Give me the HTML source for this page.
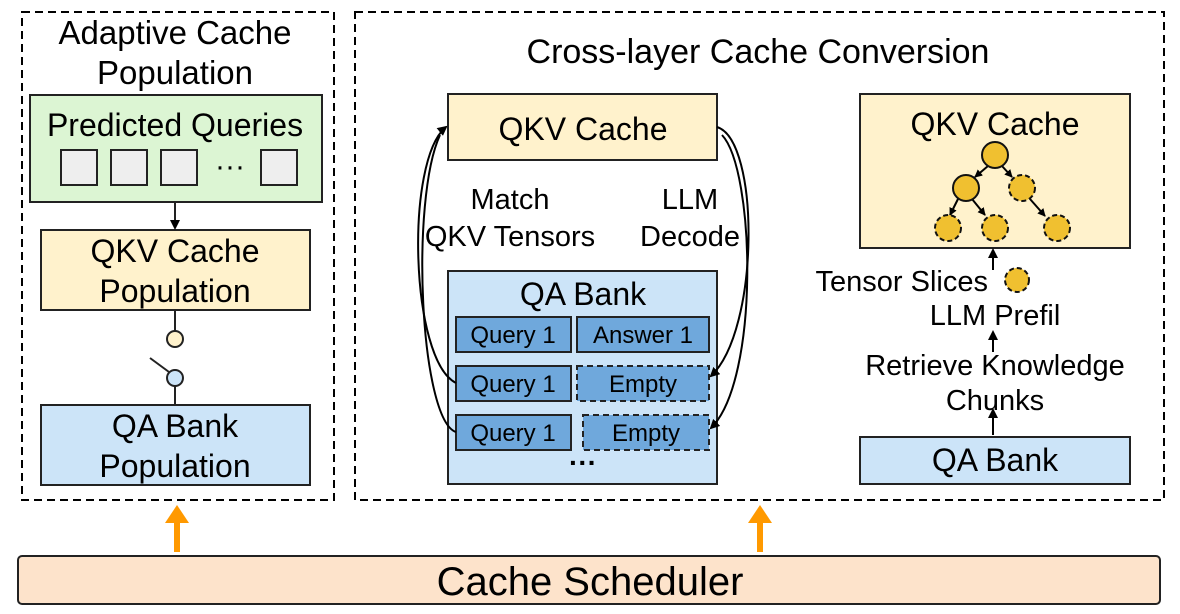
<!DOCTYPE html>
<html><head><meta charset="utf-8"><style>body{margin:0;background:#fff}svg{display:block}text{font-family:"Liberation Sans",Arial,sans-serif;fill:#000}</style></head><body>
<svg width="1180" height="614" viewBox="0 0 1180 614" xmlns="http://www.w3.org/2000/svg">
<defs>
<marker id="a" markerWidth="10" markerHeight="10" refX="8" refY="5" orient="auto" markerUnits="userSpaceOnUse"><path d="M0,0 L10,5 L0,10 Z" fill="#000"/></marker>
<marker id="s" markerWidth="8" markerHeight="8" refX="7" refY="4" orient="auto" markerUnits="userSpaceOnUse"><path d="M0,0 L8,4 L0,8 Z" fill="#000"/></marker>
</defs>
<g fill="none" stroke="#000" stroke-width="2" stroke-dasharray="8,5">
<rect x="22" y="12" width="312" height="488"/>
<rect x="355" y="12" width="809" height="488"/>
</g>
<g text-anchor="middle" font-size="33">
<text x="175" y="44">Adaptive Cache</text>
<text x="175" y="84">Population</text>
<text x="758" y="63" font-size="34">Cross-layer Cache Conversion</text>
</g>
<g stroke="#222" stroke-width="2">
<rect x="30" y="95" width="292" height="107" fill="#dcf5d3"/>
<rect x="61" y="150" width="36" height="35" fill="#eee"/>
<rect x="111" y="150" width="36" height="35" fill="#eee"/>
<rect x="161" y="150" width="36" height="35" fill="#eee"/>
<rect x="261" y="150" width="36" height="35" fill="#eee"/>
<rect x="41" y="230" width="269" height="80" fill="#fff2cc"/>
<rect x="41" y="405" width="269" height="80" fill="#cce4f8"/>
<line x1="175" y1="202" x2="175" y2="228" marker-end="url(#a)"/>
<line x1="175" y1="310" x2="175" y2="331"/>
<circle cx="175" cy="339" r="8" fill="#fff2cc"/>
<line x1="150" y1="358" x2="169" y2="372"/>
<circle cx="175" cy="378" r="8" fill="#cce4f8"/>
<line x1="175" y1="386" x2="175" y2="405"/>
</g>
<g text-anchor="middle" font-size="32">
<text x="175" y="136">Predicted Queries</text>
<text x="230" y="176" font-size="30">···</text>
<text x="175" y="262">QKV Cache</text>
<text x="175" y="302">Population</text>
<text x="175" y="437">QA Bank</text>
<text x="175" y="477">Population</text>
</g>
<!-- middle -->
<g stroke="#222" stroke-width="2">
<rect x="448" y="94" width="269" height="66" fill="#fff2cc"/>
<rect x="448" y="271" width="269" height="213" fill="#cce4f8"/>
<g fill="#6fa8dc">
<rect x="456" y="317" width="115" height="35"/>
<rect x="577" y="317" width="132" height="35"/>
<rect x="456" y="366" width="115" height="35"/>
<rect x="577" y="366" width="132" height="35" stroke-dasharray="6,4"/>
<rect x="456" y="415" width="115" height="35"/>
<rect x="583" y="415" width="126" height="35" stroke-dasharray="6,4"/>
</g>
</g>
<g fill="none" stroke="#000" stroke-width="2">
<path d="M456,383 C410,360 405,160 446,127" marker-end="url(#a)"/>
<path d="M456,432 C420,420 410,200 440,135"/>
<path d="M717,127 C760,140 760,330 711,376" marker-end="url(#a)"/>
<path d="M722,135 C755,170 760,380 711,428" marker-end="url(#a)"/>
</g>
<g text-anchor="middle">
<text x="583" y="140" font-size="32">QKV Cache</text>
<text x="510" y="209" font-size="29">Match</text>
<text x="510" y="246" font-size="29">QKV Tensors</text>
<text x="690" y="209" font-size="29">LLM</text>
<text x="690" y="246" font-size="29">Decode</text>
<text x="583" y="305" font-size="32">QA Bank</text>
<g font-size="24"><text x="513" y="343">Query 1</text><text x="643" y="343">Answer 1</text>
<text x="513" y="392">Query 1</text><text x="643" y="392">Empty</text>
<text x="513" y="441">Query 1</text><text x="646" y="441">Empty</text></g>
<text x="583" y="472" font-size="28" font-weight="bold">···</text>
</g>
<!-- right -->
<g stroke="#222" stroke-width="2">
<rect x="860" y="94" width="270" height="154" fill="#fff2cc"/>
<rect x="860" y="437" width="270" height="47" fill="#cce4f8"/>
</g>
<g stroke="#000" stroke-width="2" fill="none">
<line x1="988" y1="166" x2="975" y2="177" marker-end="url(#s)"/>
<line x1="1002" y1="166" x2="1012" y2="177" marker-end="url(#s)"/>
<line x1="958" y1="199" x2="950" y2="215" marker-end="url(#s)"/>
<line x1="972" y1="199" x2="985" y2="215" marker-end="url(#s)"/>
<line x1="1030" y1="199" x2="1045" y2="216" marker-end="url(#s)"/>
<line x1="993" y1="270" x2="993" y2="250" marker-end="url(#a)"/>
<line x1="993" y1="352" x2="993" y2="332" marker-end="url(#a)"/>
<line x1="993" y1="435" x2="993" y2="410" marker-end="url(#a)"/>
</g>
<g fill="#f0c030" stroke="#111" stroke-width="2">
<circle cx="995" cy="155" r="13"/>
<circle cx="966" cy="188" r="13"/>
<circle cx="1022" cy="188" r="13" stroke-dasharray="5,3"/>
<circle cx="948" cy="228" r="13" stroke-dasharray="5,3"/>
<circle cx="995" cy="228" r="13" stroke-dasharray="5,3"/>
<circle cx="1057" cy="228" r="13" stroke-dasharray="5,3"/>
<circle cx="1017" cy="280" r="12" stroke-dasharray="5,3"/>
</g>
<g font-size="29">
<text x="995" y="135" text-anchor="middle" font-size="32">QKV Cache</text>
<text x="988" y="291" text-anchor="end">Tensor Slices</text>
<text x="995" y="325" text-anchor="middle">LLM Prefil</text>
<text x="995" y="375" text-anchor="middle">Retrieve Knowledge</text>
<text x="995" y="410" text-anchor="middle">Chunks</text>
<text x="995" y="471" text-anchor="middle" font-size="32">QA Bank</text>
</g>
<!-- bottom -->
<rect x="18" y="556" width="1142" height="48" rx="4" fill="#fde3cb" stroke="#222" stroke-width="2"/>
<text x="590" y="595" text-anchor="middle" font-size="40">Cache Scheduler</text>
<g fill="#f90" stroke="none">
<rect x="174" y="520" width="6" height="32"/><path d="M165,523 L177,505 L189,523 Z"/>
<rect x="757" y="520" width="6" height="32"/><path d="M748,523 L760,505 L772,523 Z"/>
</g>
</svg>
</body></html>
